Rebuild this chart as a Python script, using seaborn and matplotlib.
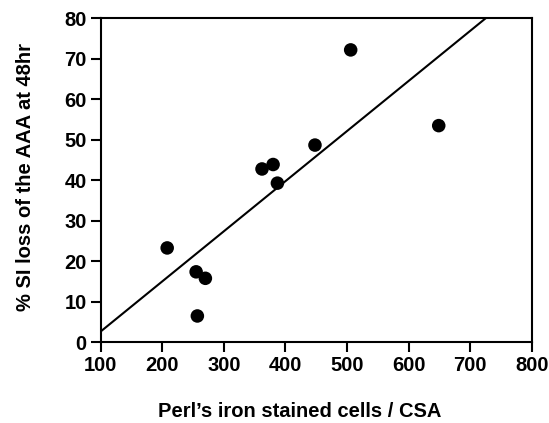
import matplotlib
matplotlib.use("Agg")
import matplotlib.pyplot as plt
import seaborn as sns
import pandas as pd

iron_cells = [208, 255, 270, 257, 362, 380, 387, 448, 506, 649]
si_loss = [23.3, 17.4, 15.8, 6.5, 42.8, 43.9, 39.3, 48.7, 72.2, 53.5]
x_ticks = [100, 200, 300, 400, 500, 600, 700, 800]
y_ticks = [0, 10, 20, 30, 40, 50, 60, 70, 80]

df = pd.DataFrame({"x": iron_cells, "y": si_loss})

sns.set_style("white")
plt.rcParams['font.family'] = ['Liberation Sans', 'DejaVu Sans']
plt.rcParams['font.weight'] = 'bold'
plt.rcParams['text.color'] = 'black'
plt.rcParams['axes.labelcolor'] = 'black'

fig = plt.figure(figsize=(5.49, 4.23), dpi=100)
ax = fig.add_axes([0.1834, 0.1908, 0.7851, 0.7659])
ax.set_xlim(100, 800)
ax.set_ylim(0, 80)

sns.regplot(data=df, x="x", y="y", ax=ax, ci=None, truncate=False,
            scatter_kws=dict(s=95, color="black", edgecolor="none", alpha=1, zorder=3),
            line_kws=dict(color="black", lw=1.5))
ax.set_xlim(100, 800)
ax.set_ylim(0, 80)
ax.set_xticks(x_ticks)
ax.set_yticks(y_ticks)
ax.tick_params(axis='both', direction='out', length=7, width=1.5, labelsize=14.5,
               colors='black', left=True, bottom=True, pad=3)
for lab in ax.get_xticklabels() + ax.get_yticklabels():
    lab.set_fontweight('bold')
for sp in ax.spines.values():
    sp.set_visible(True)
    sp.set_color('black')
    sp.set_linewidth(1.5)

ax.set_xlabel("Perl\u2019s iron stained cells / CSA", fontsize=14.5, fontweight='bold',
              color='black')
ax.set_ylabel("% SI loss of the AAA at 48hr", fontsize=14.5, fontweight='bold',
              color='black')
ax.xaxis.set_label_coords(0.4625, -0.185)
ax.yaxis.set_label_coords(-0.152, 0.51)

fig.savefig("out.png", dpi=100)
